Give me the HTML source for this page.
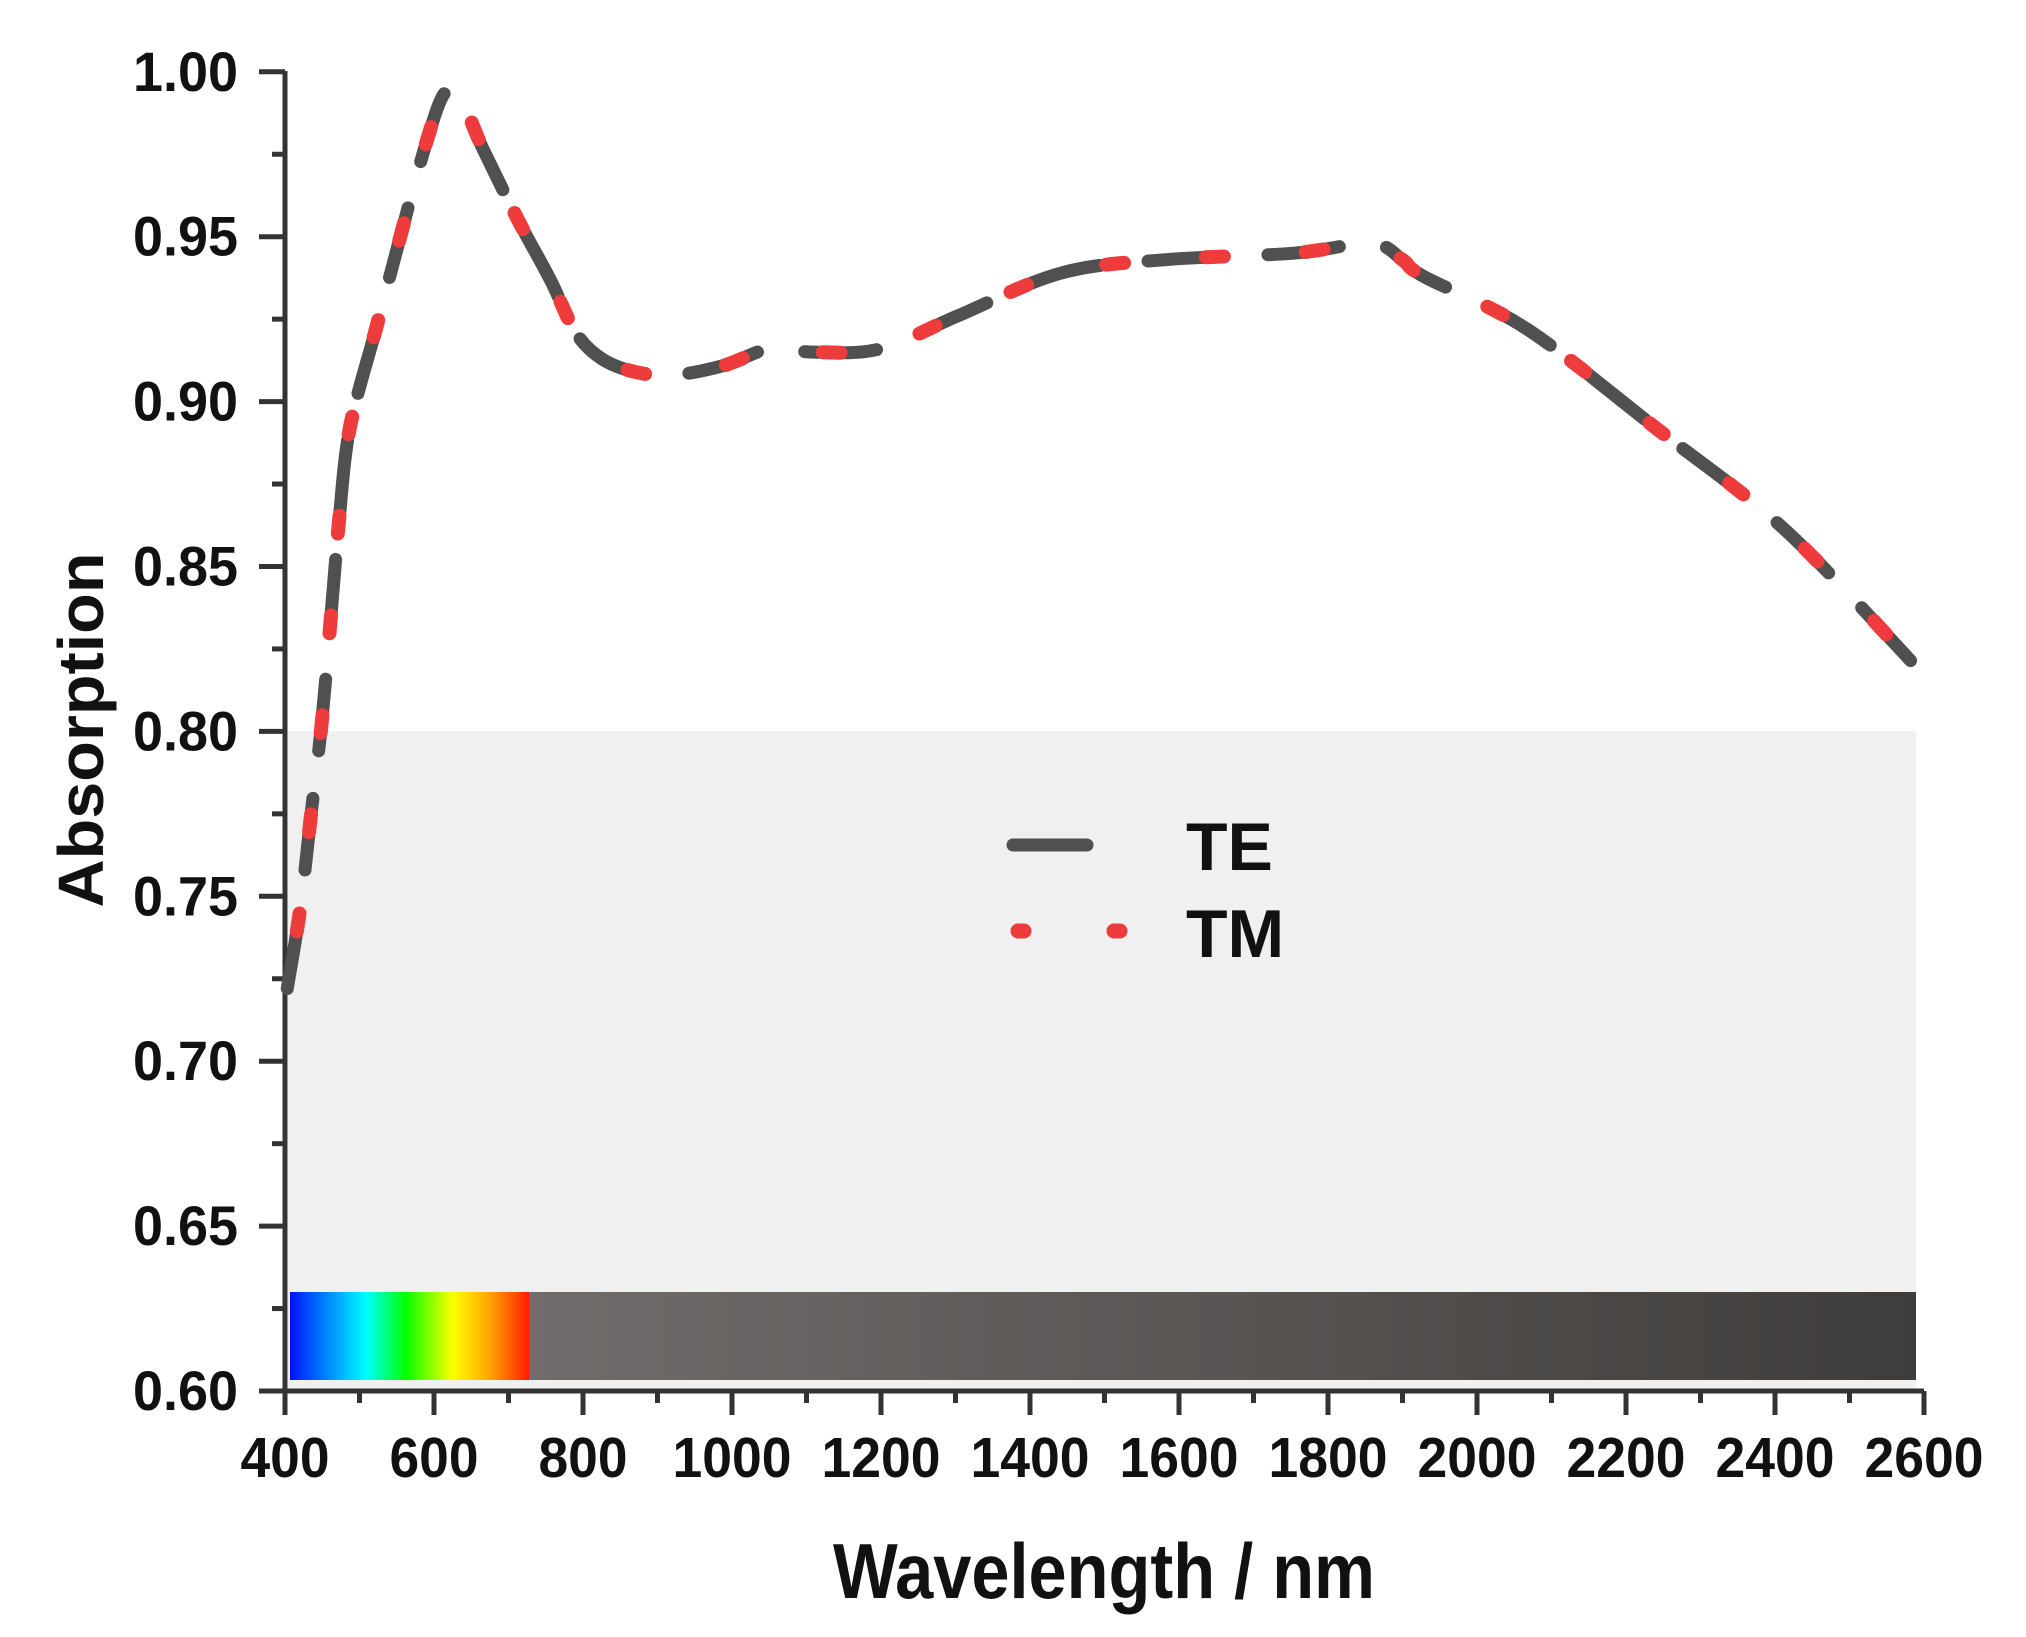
<!DOCTYPE html>
<html><head><meta charset="utf-8"><style>
html,body{margin:0;padding:0;background:#fff;}
svg{display:block;}
text{font-family:"Liberation Sans",Arial,sans-serif;font-weight:bold;fill:#111;}
</style></head><body>
<svg id="s" width="2026" height="1637" viewBox="0 0 2026 1637" xmlns="http://www.w3.org/2000/svg">
<defs>
<linearGradient id="spec" x1="0" x2="1" y1="0" y2="0">
<stop offset="0" stop-color="#0010ff"/>
<stop offset="0.08" stop-color="#0050ff"/>
<stop offset="0.32" stop-color="#00ffff"/>
<stop offset="0.48" stop-color="#00ff00"/>
<stop offset="0.68" stop-color="#ffff00"/>
<stop offset="0.84" stop-color="#ffa000"/>
<stop offset="1" stop-color="#ff1800"/>
</linearGradient>
<linearGradient id="ir" x1="0" x2="1" y1="0" y2="0">
<stop offset="0" stop-color="#716c6b"/>
<stop offset="1" stop-color="#3f3d3b"/>
</linearGradient>
</defs>
<rect x="288" y="731" width="1628" height="660" fill="#f0f0f0"/>
<rect x="290" y="1292" width="240" height="88" fill="url(#spec)"/>
<rect x="529" y="1292" width="1387" height="88" fill="url(#ir)"/>
<g id="axes" stroke="#333" stroke-width="5" fill="none"></g>
<g id="labels"></g>
<g id="curves" fill="none" stroke-linecap="round" stroke-linejoin="round"></g>
<line x1="1013" y1="845" x2="1087" y2="845" stroke="#505050" stroke-width="13" stroke-linecap="round"/>
<line x1="1018" y1="931" x2="1024" y2="931" stroke="#ee3b3b" stroke-width="15" stroke-linecap="round"/>
<line x1="1114" y1="931" x2="1120" y2="931" stroke="#ee3b3b" stroke-width="15" stroke-linecap="round"/>
<text x="1186" y="870" font-size="68">TE</text>
<text x="1186" y="957" font-size="68">TM</text>
<text x="1104" y="1598" font-size="78" text-anchor="middle" textLength="542" lengthAdjust="spacingAndGlyphs">Wavelength / nm</text>
<text transform="translate(103,730) rotate(-90)" font-size="64" text-anchor="middle" textLength="355" lengthAdjust="spacingAndGlyphs">Absorption</text>
</svg>
<script>
var NS="http://www.w3.org/2000/svg";
function X(nm){return 285+(nm-400)*149/200;}
function Y(a){return 1391-(a-0.6)/0.05*164.9;}
function el(t,a,p,txt){var e=document.createElementNS(NS,t);for(var k in a)e.setAttribute(k,a[k]);if(txt!=null)e.textContent=txt;p.appendChild(e);return e;}
var ax=document.getElementById('axes'),lb=document.getElementById('labels'),cv=document.getElementById('curves');
el('path',{d:'M285 71 V1391 H1924'},ax);
for(var i=0;i<=16;i++){var y=Y(0.6+i*0.025);var major=i%2==0;
 el('line',{x1:major?259:272,x2:285,y1:y,y2:y},ax);
 if(major)el('text',{x:238,y:y+19,'font-size':'56','text-anchor':'end',textLength:'105',lengthAdjust:'spacingAndGlyphs'},lb,(0.6+i*0.025).toFixed(2));}
for(var i=0;i<=22;i++){var nm=400+i*100;var x=X(nm);var major=i%2==0;
 el('line',{x1:x,x2:x,y1:1391,y2:major?1415:1403},ax);
 if(major){var s=String(nm);el('text',{x:x,y:1477,'font-size':'57','text-anchor':'middle',textLength:s.length==4?'119':'89',lengthAdjust:'spacingAndGlyphs'},lb,s);}}
el('line',{x1:1924,x2:1924,y1:1391,y2:1415},ax);
var d=[[403,0.722],[421,0.747],[435,0.775],[449,0.802],[461,0.833],[473,0.865],[487,0.892],[522,0.922],[556,0.951],[585,0.975],[608,0.991],[622,0.994],[640,0.99],[665,0.977],[713,0.955],[756,0.937],[790,0.921],[825,0.913],[870,0.909],[921,0.908],[990,0.911],[1050,0.916],[1110,0.915],[1199,0.916],[1303,0.926],[1442,0.939],[1580,0.943],[1754,0.945],[1858,0.948],[1900,0.943],[1928,0.938],[2067,0.922],[2240,0.892],[2414,0.861],[2588,0.820]];
var pts=d.map(function(p){return [X(p[0]),Y(p[1])];});
var path='M'+pts[0][0]+' '+pts[0][1];
for(var i=0;i<pts.length-1;i++){var p0=pts[Math.max(0,i-1)],p1=pts[i],p2=pts[i+1],p3=pts[Math.min(pts.length-1,i+2)];
 var c1=[p1[0]+(p2[0]-p0[0])/6,p1[1]+(p2[1]-p0[1])/6],c2=[p2[0]-(p3[0]-p1[0])/6,p2[1]-(p3[1]-p1[1])/6];
 path+=' C'+c1[0].toFixed(1)+' '+c1[1].toFixed(1)+' '+c2[0].toFixed(1)+' '+c2[1].toFixed(1)+' '+p2[0].toFixed(1)+' '+p2[1].toFixed(1);}
el('path',{d:path,stroke:'#505050','stroke-width':'13','stroke-dasharray':'72 48'},cv);
el('path',{d:path,stroke:'#ee3b3b','stroke-width':'14','stroke-dasharray':'18 82','stroke-dashoffset':'-58'},cv);
</script>
</body></html>
